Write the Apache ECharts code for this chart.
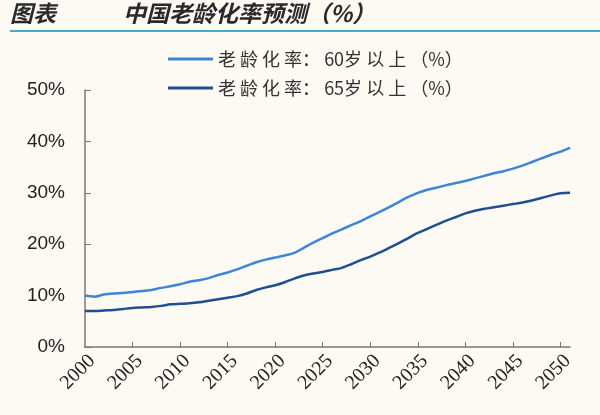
<!DOCTYPE html>
<html><head><meta charset="utf-8">
<script src="https://cdn.jsdelivr.net/npm/echarts@6/dist/echarts.min.js"></script>
<style>html,body{margin:0;padding:0;background:#fdf9f3;}#c{width:600px;height:415px;}</style>
</head><body><div id="c"></div>
<script>
const years = [];
for (let y = 2000; y <= 2051; y++) years.push(String(y));
const series60Name = '老 龄 化 率： 60岁 以 上 （%）';
const series65Name = '老 龄 化 率： 65岁 以 上 （%）';
const aged60 = [10.0,9.8,10.2,10.4,10.5,10.7,10.9,11.1,11.5,11.8,
  12.2,12.7,13.0,13.4,14.0,14.5,15.1,15.8,16.5,17.0,
  17.4,17.8,18.3,19.3,20.3,21.2,22.1,22.9,23.7,24.5,
  25.4,26.3,27.2,28.2,29.2,30.0,30.6,31.0,31.5,31.9,
  32.3,32.8,33.3,33.8,34.2,34.7,35.3,36.0,36.7,37.4,
  38.0,38.8];
const aged65 = [7.0,7.0,7.1,7.2,7.4,7.6,7.7,7.8,8.0,8.3,
  8.4,8.5,8.7,9.0,9.3,9.6,9.9,10.4,11.1,11.6,
  12.0,12.6,13.3,13.9,14.3,14.6,15.0,15.4,16.1,16.9,
  17.6,18.4,19.3,20.2,21.2,22.2,23.0,23.8,24.6,25.3,
  26.0,26.5,26.9,27.2,27.5,27.8,28.1,28.5,29.0,29.5,
  29.9,30.0];
const titleLeft = '图表';
const titleMain = '中国老龄化率预测（%）';

const chart = echarts.init(document.getElementById('c'));
chart.setOption({
  backgroundColor: '#fdf9f3',
  animation: false,
  graphic: [
    {type:'text', left:10, top:2, style:{text:titleLeft, font:'italic bold 23px "Noto Sans CJK SC"', fill:'#2a2a2a'}},
    {type:'text', left:123, top:2, style:{text:titleMain, font:'italic bold 23px "Noto Sans CJK SC"', fill:'#2a2a2a'}},
    {type:'line', shape:{x1:10,y1:31,x2:600,y2:31}, style:{stroke:'#4aa8c8', lineWidth:2}}
  ],
  legend: {
    orient:'vertical', left:163, top:45, itemWidth:45, itemHeight:3, itemGap:11,
    icon:'rect',
    textStyle:{fontSize:18, color:'#333', fontFamily:'"Noto Sans CJK SC"'},
    data:[series60Name, series65Name]
  },
  grid: {left:85, right:30, top:90, bottom:68, containLabel:false},
  xAxis: {
    type:'category', data:years, boundaryGap:false,
    axisLine:{lineStyle:{color:'#777', width:1.5}},
    axisTick:{inside:true, length:5, interval:(i)=> i%5===0 && i>0, lineStyle:{color:'#777'}},
    axisLabel:{rotate:45, interval:(i)=> i%5===0, fontSize:20, color:'#222', fontFamily:'"Liberation Serif"', margin:4, verticalAlign:'top'}
  },
  yAxis: {
    type:'value', min:0, max:50, interval:10,
    axisLine:{show:true, lineStyle:{color:'#777', width:1.5}},
    axisTick:{show:true, inside:true, length:6, lineStyle:{color:'#777'}},
    splitLine:{show:false},
    axisLabel:{formatter:'{value}%', fontSize:19, color:'#222', fontFamily:'"Liberation Sans"', margin:20}
  },
  series: [
    {name:series60Name, type:'line', data:aged60, showSymbol:false, smooth:0.3,
     lineStyle:{width:2.5, color:'#3d86d6'}, itemStyle:{color:'#3d86d6'}},
    {name:series65Name, type:'line', data:aged65, showSymbol:false, smooth:0.3,
     lineStyle:{width:2.5, color:'#1f4f8f'}, itemStyle:{color:'#1f4f8f'}}
  ]
});
</script></body></html>
